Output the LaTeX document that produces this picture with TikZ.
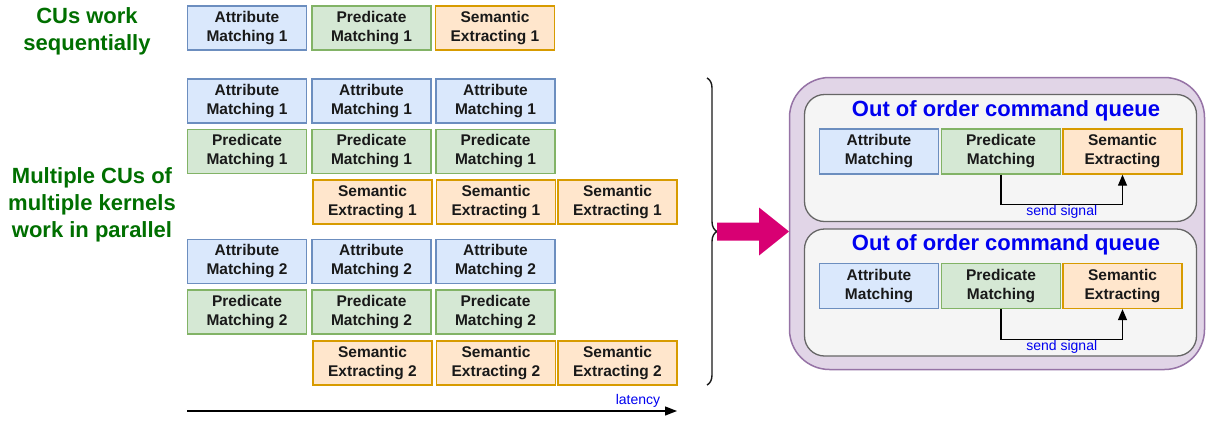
\documentclass[tikz,border=0pt]{standalone}
\usepackage{xcolor}
\usepackage{fontspec}
\setmainfont{Liberation Sans}
\usepackage{tikz}
\usetikzlibrary{arrows.meta,decorations.pathreplacing}

\definecolor{attrfill}{HTML}{DAE8FC}
\definecolor{attrline}{HTML}{6C8EBF}
\definecolor{predfill}{HTML}{D5E8D4}
\definecolor{predline}{HTML}{82B366}
\definecolor{semfill}{HTML}{FFE6CC}
\definecolor{semline}{HTML}{D79B00}
\definecolor{quefill}{HTML}{E1D5E7}
\definecolor{queline}{HTML}{9673A6}
\definecolor{panelfill}{HTML}{F5F5F5}
\definecolor{panelline}{HTML}{666666}
\definecolor{pushpink}{HTML}{D80073}
\definecolor{cugreen}{HTML}{006F00}
\definecolor{titleblue}{HTML}{0000F0}

\begin{document}
\begin{tikzpicture}[x=1pt, y=-1pt,
  every node/.style={font=\fontsize{15.5}{19}\selectfont\bfseries, align=center},
  job/.style={draw, line width=1.3pt, minimum width=119pt, minimum height=44pt, inner sep=0pt, text=black!90},
  attr/.style={job, draw=attrline, fill=attrfill},
  pred/.style={job, draw=predline, fill=predfill},
  sem/.style={job, draw=semline, fill=semfill},
  cutext/.style={text=cugreen, font=\fontsize{22}{27}\selectfont\bfseries},
  quetitle/.style={text=titleblue, font=\fontsize{22}{26}\selectfont\bfseries},
  sigtext/.style={text=titleblue, font=\fontsize{14}{16}\selectfont, inner sep=0.5pt}]
  \useasboundingbox (0,0) rectangle (1208,421);

  % Left labels
  \node[cutext] (seqlbl) at (87,31) {CUs work\\sequentially};
  \node[cutext] (parlbl) at (92,205) {Multiple CUs of\\multiple kernels\\work in parallel};

  % Sequential run
  \node[attr] (sa) at (247,28) {Attribute\\Matching 1};
  \node[pred] (sp) at (371.5,28) {Predicate\\Matching 1};
  \node[sem] (ss) at (495,28) {Semantic\\Extracting 1};

  % Parallel runs
  \foreach \x/\c in {247/1, 371.5/2, 495.5/3}{
    \node[attr] (a1-\c) at (\x,101) {Attribute\\Matching 1};
    \node[pred] (p1-\c) at (\x,151.5) {Predicate\\Matching 1};
    \node[attr] (a2-\c) at (\x,261.5) {Attribute\\Matching 2};
    \node[pred] (p2-\c) at (\x,312) {Predicate\\Matching 2};
  }
  \foreach \x/\c in {372.5/1, 496/2, 617.5/3}{
    \node[sem] (s1-\c) at (\x,202) {Semantic\\Extracting 1};
    \node[sem] (s2-\c) at (\x,363) {Semantic\\Extracting 2};
  }

  % Latency axis
  \coordinate (lat0) at (187,411);
  \coordinate (lat1) at (677,411);
  \draw[line width=1.3pt, -{Triangle[length=12pt,width=9pt]}] (lat0) -- (lat1);
  \node[sigtext] (latlbl) at (638,401) {latency};

  % Brace and push arrow
  \coordinate (brtop) at (707,78);
  \coordinate (brbot) at (707,385);
  \coordinate (brtip) at (717,231.5);
  \draw[line width=1.4pt, black!90, decorate, decoration={brace, amplitude=10pt}] (brtop) -- (brbot);
  \fill[pushpink] (brtip) ++(0,-9) -- ++(42,0) -- ++(0,-15) -- ++(30,24)
    -- ++(-30,24) -- ++(0,-15) -- ++(-42,0) -- cycle;

  % Command queues
  \node[draw=queline, fill=quefill, line width=1.5pt, rounded corners=40pt,
    minimum width=415pt, minimum height=292pt] (outer) at (997,223.5) {};
  \foreach \y/\q in {158/1, 292.5/2}{
    \node[draw=panelline, fill=panelfill, line width=1.3pt, rounded corners=20pt,
      minimum width=392pt, minimum height=127pt] (panel\q) at (1000.5,\y) {};
    \node[quetitle] (qt\q) at (1006,\y-47.5) {Out of order command queue};
    \node[attr, minimum height=45pt] (qa\q) at (879,\y-6.5) {Attribute\\Matching};
    \node[pred, minimum height=45pt] (qp\q) at (1001,\y-6.5) {Predicate\\Matching};
    \node[sem, minimum height=45pt] (qs\q) at (1122.5,\y-6.5) {Semantic\\Extracting};
    \draw[line width=1.3pt, -{Triangle[length=11pt,width=9pt]}] (qp\q.south) -- ++(0,30)
      -| node[pos=0.25, below, sigtext] {send signal} (qs\q.south);
  }
\end{tikzpicture}
\end{document}
